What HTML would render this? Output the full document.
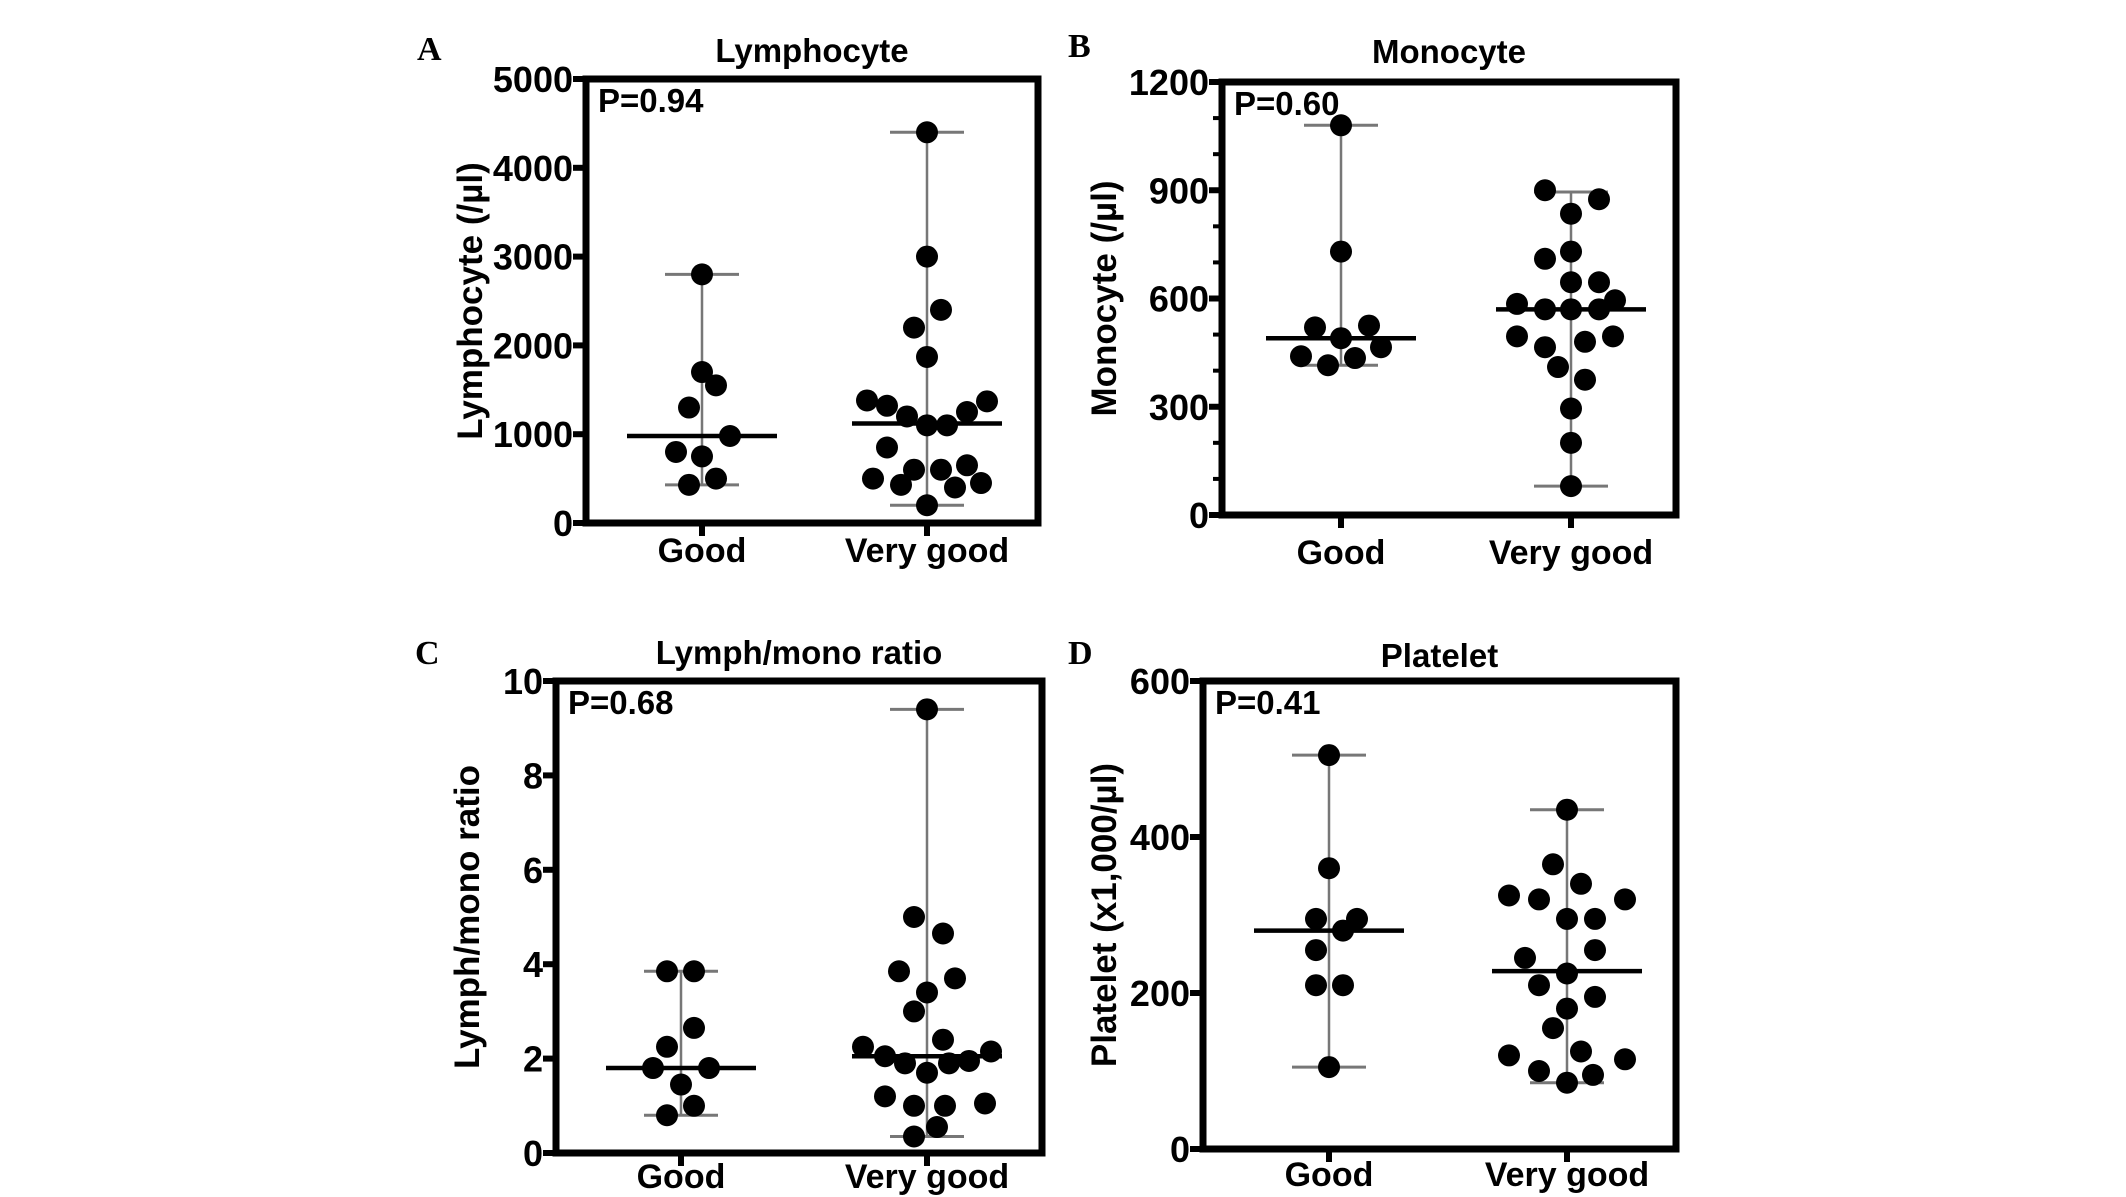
<!DOCTYPE html>
<html><head><meta charset="utf-8"><style>
body{margin:0;background:#fff}
svg{display:block}
text{font-family:"Liberation Sans",sans-serif;font-weight:bold;fill:#000}
.let{font-family:"Liberation Serif",serif}
</style></head><body>
<svg id="fig" width="2126" height="1197" viewBox="0 0 2126 1197" xmlns="http://www.w3.org/2000/svg"></svg>
<script>
// Panel A - Lymphocyte
const aGoodVals=[2800,1700,1550,1300,980,800,750,500,430];
const aGoodJit=[0,0,0.7,-0.65,1.4,-1.3,0,0.7,-0.65];
const aVgVals=[4400,3000,2400,2200,1870,1380,1320,1200,1100,1100,1250,1370,850,500,430,600,600,650,400,450,200];
const aVgJit=[0,0,0.7,-0.65,0,-3,-2,-1,0,1,2,3,-2,-2.7,-1.3,-0.65,0.7,2,1.4,2.7,0];
const aStats={goodMed:980,goodMin:430,goodMax:2800,vgMed:1120,vgMin:200,vgMax:4400};
const aTicks=[0,1000,2000,3000,4000,5000];
// Panel B - Monocyte
const bGoodVals=[1080,730,520,490,525,440,415,435,465];
const bGoodJit=[0,0,-1.3,0,1.4,-2,-0.65,0.7,2];
const bVgVals=[900,875,835,730,710,645,645,585,570,570,570,595,495,465,480,495,410,375,295,200,80];
const bVgJit=[-1.3,1.4,0,0,-1.3,0,1.4,-2.7,-1.3,0,1.4,2.2,-2.7,-1.3,0.7,2.1,-0.65,0.7,0,0,0];
const bStats={goodMed:490,goodMin:415,goodMax:1080,vgMed:570,vgMin:80,vgMax:895};
const bTicks=[0,300,600,900,1200];
// Panel C - Lymph/mono ratio
const cGoodVals=[3.85,3.85,2.65,2.25,1.8,1.8,1.45,1.0,0.8];
const cGoodJit=[-0.7,0.65,0.65,-0.7,-1.4,1.4,0,0.65,-0.7];
const cVgVals=[9.4,5.0,4.65,3.85,3.7,3.4,3.0,2.4,2.25,2.05,1.9,1.7,1.9,1.95,2.15,1.2,1.0,1.0,1.05,0.55,0.35];
const cVgJit=[0,-0.65,0.8,-1.4,1.4,0,-0.65,0.8,-3.2,-2.1,-1.1,0,1.1,2.1,3.2,-2.1,-0.65,0.9,2.9,0.5,-0.65];
const cStats={goodMed:1.8,goodMin:0.8,goodMax:3.85,vgMed:2.05,vgMin:0.35,vgMax:9.4};
const cTicks=[0,2,4,6,8,10];
// Panel D - Platelet
const dGoodVals=[505,360,295,295,280,255,210,210,105];
const dGoodJit=[0,0,-0.65,1.4,0.7,-0.65,-0.65,0.7,0];
const dVgVals=[435,365,340,325,320,320,295,295,245,255,225,210,195,180,155,120,125,115,100,95,85];
const dVgJit=[0,-0.7,0.7,-2.9,-1.4,2.9,0,1.4,-2.1,1.4,0,-1.4,1.4,0,-0.7,-2.9,0.7,2.9,-1.4,1.3,0];
const dStats={goodMed:280,goodMin:105,goodMax:505,vgMed:228,vgMin:85,vgMax:435};
const dTicks=[0,200,400,600];

const NS="http://www.w3.org/2000/svg";
const svg=document.getElementById('fig');
function mk(tag,attrs,parent,txt){const e=document.createElementNS(NS,tag);for(const k in attrs)e.setAttribute(k,attrs[k]);if(txt!==undefined)e.textContent=txt;parent.appendChild(e);return e;}

function panel(cfg){
  const g=mk('g',{},svg);
  
  
  const ymax=cfg.ticks[cfg.ticks.length-1];
  const y=v=>cfg.bottom-(v/ymax)*(cfg.bottom-cfg.top);
  const unit=20, r=11;
  const L=mk('text',{x:cfg.letX,y:cfg.letY,'font-size':34,class:'let'},g,cfg.letter);
  
  
  const T=mk('text',{x:(cfg.left+cfg.right)/2,y:cfg.titleY,'font-size':33,'text-anchor':'middle'},g,cfg.title);
  
  
  const cy=(cfg.top+cfg.bottom)/2;
  const YL=mk('text',{x:cfg.ylabX,y:cy,'font-size':35,'text-anchor':'middle',transform:`rotate(-90 ${cfg.ylabX} ${cy})`},g,cfg.ylabel);
  
  
  cfg.ticks.forEach(t=>{
    mk('line',{x1:cfg.left-13,x2:cfg.left,y1:y(t),y2:y(t),stroke:'#000','stroke-width':6},g);
    const tl=mk('text',{x:cfg.left-13,y:y(t)+13,'font-size':36,'text-anchor':'end'},g,String(t));
    
    
  });
  if(cfg.minor){for(let v=cfg.minor;v<ymax;v+=cfg.minor){mk('line',{x1:cfg.left-9,x2:cfg.left,y1:y(v),y2:y(v),stroke:'#000','stroke-width':4},g);}}
  const B=mk('rect',{x:cfg.left,y:cfg.top,width:cfg.right-cfg.left,height:cfg.bottom-cfg.top,fill:'none',stroke:'#000','stroke-width':7},g);
  
  
  const P=mk('text',{x:cfg.left+12,y:cfg.top+33,'font-size':33},g,cfg.p);
  
  
  const groups=[['good','Good',cfg.gx,cfg.goodVals,cfg.goodJit,cfg.stats.goodMed,cfg.stats.goodMin,cfg.stats.goodMax],
                ['very-good','Very good',cfg.vx,cfg.vgVals,cfg.vgJit,cfg.stats.vgMed,cfg.stats.vgMin,cfg.stats.vgMax]];
  groups.forEach(([key,lab,cx,vals,jit,med,mn,mx])=>{
    mk('line',{x1:cx,x2:cx,y1:cfg.bottom,y2:cfg.bottom+13,stroke:'#000','stroke-width':6},g);
    const xl=mk('text',{x:cx,y:cfg.xlabY,'font-size':34,'text-anchor':'middle'},g,lab);
    
    
    const wh=mk('line',{x1:cx,x2:cx,y1:y(mn),y2:y(mx),stroke:'#777','stroke-width':2.5},g);
    
    
    [mn,mx].forEach(v=>{const c=mk('line',{x1:cx-37,x2:cx+37,y1:y(v),y2:y(v),stroke:'#777','stroke-width':3},g);
      
      });
    vals.forEach((v,i)=>{const d=mk('circle',{cx:cx+jit[i]*unit,cy:y(v),r:r,fill:'#000'},g);
      
      });
    const m=mk('line',{x1:cx-75,x2:cx+75,y1:y(med),y2:y(med),stroke:'#000','stroke-width':4.5},g);
    
    
  });
}
panel({id:'a',letter:'A',title:'Lymphocyte',ylabel:'Lymphocyte (/µl)',p:'P=0.94',left:586,right:1038,top:79,bottom:523,gx:702,vx:927,
  letX:417,letY:60,titleY:62,ylabX:482,xlabY:562,ticks:aTicks,goodVals:aGoodVals,goodJit:aGoodJit,vgVals:aVgVals,vgJit:aVgJit,stats:aStats});
panel({id:'b',letter:'B',title:'Monocyte',ylabel:'Monocyte (/µl)',p:'P=0.60',left:1222,right:1676,top:82,bottom:515,gx:1341,vx:1571,
  letX:1068,letY:57,titleY:63,ylabX:1116,xlabY:564,ticks:bTicks,minor:100,goodVals:bGoodVals,goodJit:bGoodJit,vgVals:bVgVals,vgJit:bVgJit,stats:bStats});
panel({id:'c',letter:'C',title:'Lymph/mono ratio',ylabel:'Lymph/mono ratio',p:'P=0.68',left:556,right:1042,top:681,bottom:1153,gx:681,vx:927,
  letX:415,letY:664,titleY:664,ylabX:479,xlabY:1188,ticks:cTicks,goodVals:cGoodVals,goodJit:cGoodJit,vgVals:cVgVals,vgJit:cVgJit,stats:cStats});
panel({id:'d',letter:'D',title:'Platelet',ylabel:'Platelet (x1,000/µl)',p:'P=0.41',left:1203,right:1676,top:681,bottom:1149,gx:1329,vx:1567,
  letX:1068,letY:664,titleY:667,ylabX:1116,xlabY:1186,ticks:dTicks,goodVals:dGoodVals,goodJit:dGoodJit,vgVals:dVgVals,vgJit:dVgJit,stats:dStats});
</script>
</body></html>
